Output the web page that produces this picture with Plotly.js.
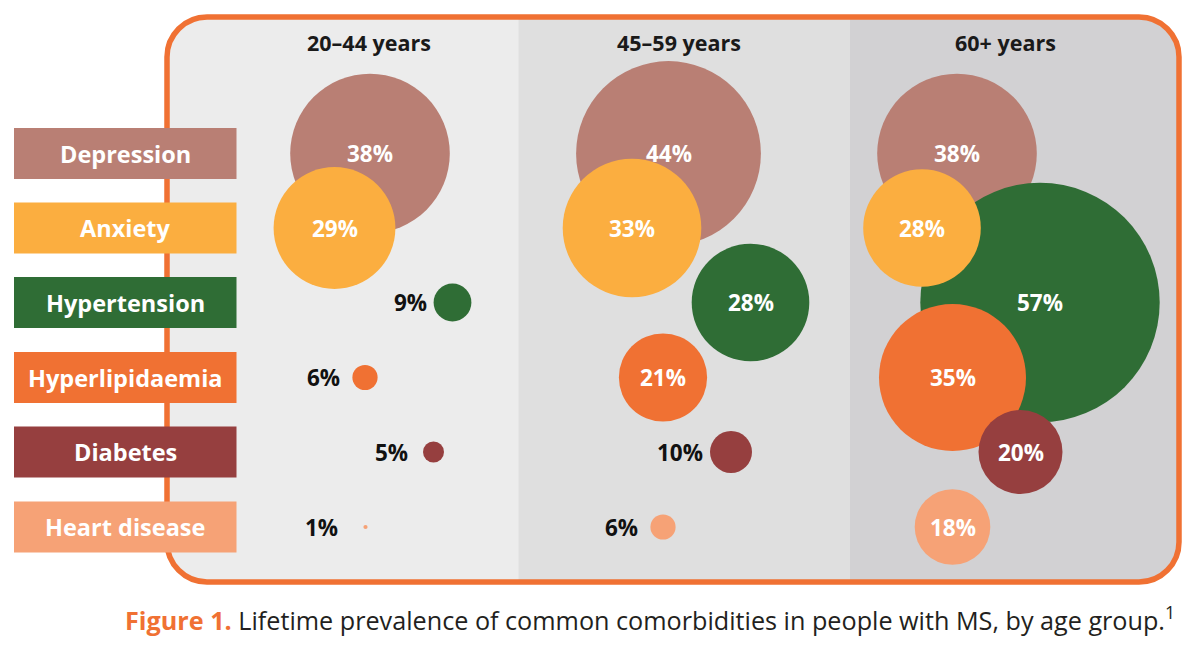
<!DOCTYPE html>
<html><head><meta charset="utf-8">
<script src="https://cdn.plot.ly/plotly-3.0.1.min.js"></script>
<style>html,body{margin:0;padding:0;background:#fff}</style>
</head><body><div id="chart" style="width:1200px;height:647px"></div>
<script>
// ---------- data ----------
const categories = ['Depression', 'Anxiety', 'Hypertension', 'Hyperlipidaemia', 'Diabetes', 'Heart disease'];
const ageGroups = ['20–44 years', '45–59 years', '60+ years'];
const values2044 = [38, 29, 9, 6, 5, 1];
const values4559 = [44, 33, 28, 21, 10, 6];
const values60plus = [38, 28, 57, 35, 20, 18];
const captionBold = 'Figure 1.';
const captionText = 'Lifetime prevalence of common comorbidities in people with MS, by age group.';

// ---------- layout / style (not data) ----------
const catColors = ['#b97f74', '#fbae40', '#2f6d35', '#f07133', '#963f3f', '#f6a276'];
const colBg = ['#ececec', '#dfdfdf', '#d2d1d3'];
const orange = '#f07133';
const rowY = [153.5, 228, 302.5, 377.5, 452, 527];
const bubbleX = [
  [370, 334.5, 452.5, 365, 433.5, 365.5],
  [668.5, 632, 750.5, 663, 731, 663],
  [957, 922, 1040, 952.5, 1020.5, 952.5]
];
const labelGap = [
  [0, 0, 5, 10, 13, 23],
  [0, 0, 0, 0, 5, 10],
  [0, 0, 0, 0, 0, 0]
];
const headerX = [369, 679, 1005];
const drawOrder = [0, 2, 1, 3, 4, 5];
const pxPerPct = 4.2;
const insideMin = 15;
const FONT = 'Open Sans, sans-serif';

const valuesByAge = [values2044, values4559, values60plus];

const traces = drawOrder.map(i => ({
  type: 'scatter', mode: 'markers', name: categories[i],
  x: valuesByAge.map((v, c) => bubbleX[c][i]),
  y: valuesByAge.map(() => rowY[i]),
  marker: { size: valuesByAge.map(v => v[i] * pxPerPct), sizemode: 'diameter',
            color: catColors[i], opacity: 1, line: { width: 0 } },
  hoverinfo: 'skip', showlegend: false
}));

const annotations = [];
valuesByAge.forEach((vals, c) => {
  vals.forEach((v, i) => {
    const inside = v >= insideMin;
    const r = v * pxPerPct / 2;
    annotations.push({
      x: bubbleX[c][i], y: rowY[i], xref: 'x', yref: 'y',
      text: v + '%', showarrow: false,
      xanchor: inside ? 'center' : 'right', yanchor: 'middle',
      xshift: inside ? 0 : -(r + labelGap[c][i]),
      font: { family: FONT, size: 22.5, color: inside ? '#ffffff' : '#111111', weight: 700 }
    });
  });
});
ageGroups.forEach((g, c) => annotations.push({
  x: headerX[c], y: 42, xref: 'x', yref: 'y', text: g, showarrow: false,
  xanchor: 'center', yanchor: 'middle',
  font: { family: FONT, size: 21.5, color: '#1a1a1a', weight: 700 }
}));
categories.forEach((cat, i) => annotations.push({
  x: 125, y: rowY[i], xref: 'x', yref: 'y', text: cat, showarrow: false,
  xanchor: 'center', yanchor: 'middle',
  font: { family: FONT, size: 23.5, color: '#ffffff', weight: 700 }
}));
annotations.push({
  x: 650, y: 618, xref: 'x', yref: 'y', showarrow: false, xanchor: 'center', yanchor: 'middle',
  text: '<span style="color:' + orange + ';font-weight:bold">' + captionBold + '</span> ' + captionText + '<sup>1</sup>',
  font: { family: FONT, size: 25.2, color: '#231f20' }
});

// rounded rectangle helper
function rrect(x0, y0, x1, y1, rl, rr) {
  const k = 0.5523;
  let p = `M ${x0 + rl},${y0} L ${x1 - rr},${y0} `;
  p += rr ? `C ${x1 - rr + rr * k},${y0} ${x1},${y0 + rr - rr * k} ${x1},${y0 + rr} ` : '';
  p += `L ${x1},${y1 - rr} `;
  p += rr ? `C ${x1},${y1 - rr + rr * k} ${x1 - rr + rr * k},${y1} ${x1 - rr},${y1} ` : '';
  p += `L ${x0 + rl},${y1} `;
  p += rl ? `C ${x0 + rl - rl * k},${y1} ${x0},${y1 - rl + rl * k} ${x0},${y1 - rl} ` : '';
  p += `L ${x0},${y0 + rl} `;
  p += rl ? `C ${x0},${y0 + rl - rl * k} ${x0 + rl - rl * k},${y0} ${x0 + rl},${y0} ` : '';
  return p + 'Z';
}
const BX0 = 167, BX1 = 1179, BY0 = 17, BY1 = 582, R = 40;
const colEdges = [BX0, 518.5, 850, BX1];
const shapes = [
  { type: 'path', xref: 'x', yref: 'y', layer: 'below', path: rrect(BX0, BY0, BX1, BY1, R, R), fillcolor: colBg[0], line: { width: 0 } },
  { type: 'rect', xref: 'x', yref: 'y', layer: 'below', x0: colEdges[1], x1: colEdges[2], y0: BY0, y1: BY1, fillcolor: colBg[1], line: { width: 0 } },
  { type: 'path', xref: 'x', yref: 'y', layer: 'below', path: rrect(colEdges[2], BY0, BX1, BY1, 0, R), fillcolor: colBg[2], line: { width: 0 } },
  { type: 'path', xref: 'x', yref: 'y', layer: 'below', path: rrect(BX0, BY0, BX1, BY1, R, R), fillcolor: 'rgba(0,0,0,0)', line: { width: 5.5, color: orange } }
];
categories.forEach((cat, i) => shapes.push({
  type: 'rect', xref: 'x', yref: 'y', layer: 'below', x0: 14, x1: 236.5,
  y0: rowY[i] - 25.5, y1: rowY[i] + 25.5, fillcolor: catColors[i], line: { width: 0 }
}));

const layout = {
  width: 1200, height: 647,
  margin: { l: 0, r: 0, t: 0, b: 0, pad: 0 },
  paper_bgcolor: '#ffffff', plot_bgcolor: '#ffffff',
  xaxis: { range: [0, 1200], visible: false, fixedrange: true },
  yaxis: { range: [647, 0], visible: false, fixedrange: true },
  shapes, annotations, showlegend: false,
  font: { family: FONT }
};
Plotly.newPlot('chart', traces, layout, { staticPlot: true, displayModeBar: false });
</script></body></html>
